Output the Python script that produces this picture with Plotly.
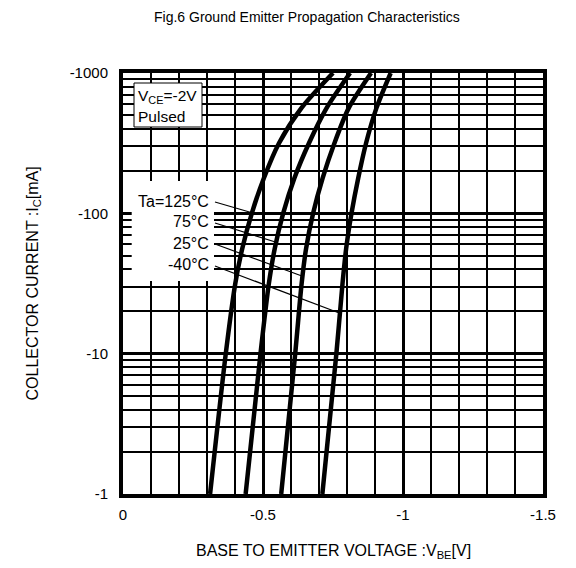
import numpy as np
import plotly.graph_objects as go

# ---- data: |I_C| (mA) and |V_BE| (V) per temperature ----
ic_ma = [1, 10, 31.6, 56.2, 100, 178, 316, 562, 1000]
vbe_125 = [0.311, 0.367, 0.401, 0.426, 0.460, 0.503, 0.557, 0.637, 0.750]
vbe_75 = [0.438, 0.491, 0.521, 0.542, 0.572, 0.612, 0.664, 0.727, 0.811]
vbe_25 = [0.565, 0.615, 0.638, 0.654, 0.679, 0.713, 0.755, 0.806, 0.886]
vbe_m40 = [0.712, 0.762, 0.784, 0.797, 0.816, 0.840, 0.868, 0.905, 0.956]

curve_labels = ["Ta=125°C", "75°C", "25°C", "-40°C"]
leader_end_ic = [101, 62.2, 35.6, 19.4]

x_tickvals = [0, -0.5, -1, -1.5]
x_ticktext = ["0", "-0.5", "-1", "-1.5"]
y_tickvals = [1, 10, 100, 1000]
y_ticktext = ["-1", "-10", "-100", "-1000"]

FONT = "Arial, Liberation Sans, sans-serif"

W, H = 576, 568
L, R, T, B = 123, 33, 73, 74
PW, PH = W - L - R, H - T - B


def px_to_paper(px, py):
    return (px - L) / PW, (H - B - py) / PH


def pxy_to_data(px, py):
    v = -(px - L) / PW * 1.5
    i = 10 ** ((H - B - py) / PH * 3)
    return v, i


fig = go.Figure()

curves = [vbe_125, vbe_75, vbe_25, vbe_m40]
for v in curves:
    fig.add_trace(go.Scatter(x=[-a for a in v], y=ic_ma, mode="lines",
                             line=dict(color="black", width=4.5, shape="spline", smoothing=0.8),
                             showlegend=False, hoverinfo="skip"))

# leader lines from labels to curves
label_py = [202, 223, 244, 266]
for v, ic_end, py in zip(curves, leader_end_ic, label_py):
    v_end = np.interp(np.log10(ic_end), np.log10(ic_ma), v)
    x0, y0 = pxy_to_data(215, py)
    fig.add_trace(go.Scatter(x=[x0, -v_end], y=[y0, ic_end], mode="lines",
                             line=dict(color="black", width=1.2),
                             showlegend=False, hoverinfo="skip"))

# white background behind temperature labels
x0, y1 = px_to_paper(131.7, 181)
x1, y0 = px_to_paper(214, 281)
fig.add_shape(type="rect", xref="paper", yref="paper", x0=x0, x1=x1, y0=y0, y1=y1,
              fillcolor="white", line=dict(width=0), layer="above")

# V_CE box
bx0, by1 = px_to_paper(134, 83)
bx1, by0 = px_to_paper(202, 127)
fig.add_shape(type="rect", xref="paper", yref="paper", x0=bx0, x1=bx1, y0=by0, y1=by1,
              fillcolor="white", line=dict(color="black", width=1), layer="above")

ann = []
for txt, py in zip(curve_labels, [201, 222, 243, 264]):
    ax, ay = px_to_paper(211, py)
    ann.append(dict(text=txt, x=ax, y=ay, xref="paper", yref="paper", xanchor="right",
                    yanchor="middle", showarrow=False, font=dict(size=16, color="black", family=FONT)))

ax, ay = px_to_paper(136, 97)
ann.append(dict(text="V<sub>CE</sub>=-2V", x=ax, y=ay, xref="paper", yref="paper", xanchor="left",
                yanchor="middle", showarrow=False, font=dict(size=15.5, color="black", family=FONT)))
ax, ay = px_to_paper(136, 116)
ann.append(dict(text="Pulsed", x=ax, y=ay, xref="paper", yref="paper", xanchor="left",
                yanchor="middle", showarrow=False, font=dict(size=15.5, color="black", family=FONT)))

# title and axis titles
ax, ay = px_to_paper(307, 17)
ann.append(dict(text="Fig.6 Ground Emitter Propagation Characteristics", x=ax, y=ay,
                xref="paper", yref="paper", xanchor="center", yanchor="middle", showarrow=False,
                font=dict(size=14, color="black", family=FONT)))
ax, ay = px_to_paper(333, 551)
ann.append(dict(text="BASE TO EMITTER VOLTAGE :V<sub>BE</sub>[V]", x=ax, y=ay,
                xref="paper", yref="paper", xanchor="center", yanchor="middle", showarrow=False,
                font=dict(size=16, color="black", family=FONT)))
ax, ay = px_to_paper(33, 283.5)
ann.append(dict(text="COLLECTOR CURRENT :I<sub>C</sub>[mA]", x=ax, y=ay, textangle=-90,
                xref="paper", yref="paper", xanchor="center", yanchor="middle", showarrow=False,
                font=dict(size=16, color="black", family=FONT)))

fig.update_layout(
    width=W, height=H,
    margin=dict(l=L, r=R, t=T, b=B, pad=0),
    paper_bgcolor="white", plot_bgcolor="white",
    annotations=ann,
    font=dict(family=FONT, color="black", size=15),
)

fig.update_xaxes(
    range=[0, -1.5], tickmode="array", tickvals=x_tickvals, ticktext=x_ticktext,
    showgrid=True, gridcolor="black", gridwidth=3, zeroline=False,
    showline=True, linecolor="black", linewidth=4, mirror=True,
    ticks="", ticklabelstandoff=4,
    tickfont=dict(size=15, family=FONT, color="black"),
    minor=dict(tick0=0, dtick=0.1, showgrid=True, gridcolor="black", gridwidth=1.5, ticks=""),
)
fig.update_yaxes(
    type="log", range=[0, 3], tickmode="array", tickvals=y_tickvals, ticktext=y_ticktext,
    showgrid=True, gridcolor="black", gridwidth=3, zeroline=False,
    showline=True, linecolor="black", linewidth=4, mirror=True,
    ticks="", ticklabelstandoff=8,
    tickfont=dict(size=15, family=FONT, color="black"),
    minor=dict(dtick="D1", showgrid=True, gridcolor="black", gridwidth=1.5, ticks=""),
)

fig.write_html("out.html")
